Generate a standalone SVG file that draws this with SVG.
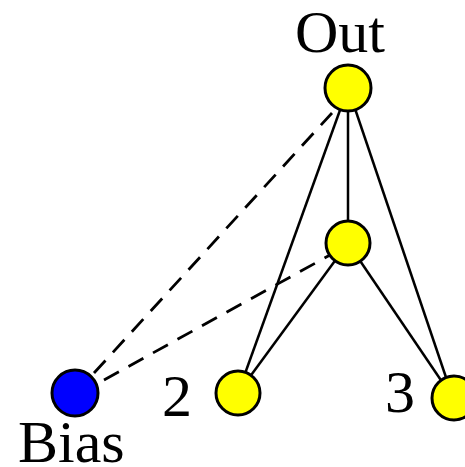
<svg xmlns="http://www.w3.org/2000/svg" width="465" height="467" viewBox="0 0 465 467">
<style>
.e{stroke:#000;stroke-width:2.5;fill:none}
.d{stroke:#000;stroke-width:2.8;fill:none;stroke-dasharray:17 11}
.n{stroke:#000;stroke-width:3}
.y{fill:#ffff00}
.b{fill:#0000ff}
.t{font-family:"Liberation Serif","Times New Roman",serif;font-size:60px;fill:#000}
</style>
<rect width="465" height="467" fill="#fff"/>
<g id="connectors">
<line class="e" x1="348" y1="88" x2="348" y2="243"/>
<line class="e" x1="348" y1="88" x2="238" y2="393"/>
<line class="e" x1="348" y1="88" x2="453" y2="398"/>
<line class="e" x1="348" y1="243" x2="238" y2="393"/>
<line class="e" x1="348" y1="243" x2="453" y2="398"/>
<line class="d" x1="94" y1="373" x2="332" y2="113"/>
<line class="d" x1="104" y1="380" x2="330" y2="255"/>
</g>
<g id="out"><circle class="n y" cx="348" cy="88" r="23"/><text class="t" x="295" y="52">Out</text></g>
<g id="hidden"><circle class="n y" cx="348" cy="243" r="22"/></g>
<g id="n2"><circle class="n y" cx="238" cy="393" r="22"/><text class="t" x="162" y="416">2</text></g>
<g id="n3"><circle class="n y" cx="454" cy="398" r="22"/><text class="t" x="385" y="412">3</text></g>
<g id="bias"><circle class="n b" cx="75" cy="393" r="23"/><text class="t" x="18" y="462">Bias</text></g>
</svg>
